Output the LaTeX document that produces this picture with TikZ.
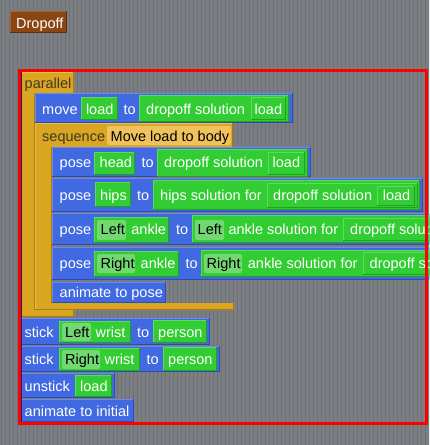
\documentclass[tikz,border=0pt]{standalone}
\usepackage{fontspec}
\setmainfont{Liberation Sans}
\definecolor{bg}{HTML}{7B7E82}
\definecolor{bgs}{HTML}{6D7074}
\definecolor{bblue}{HTML}{4169E1}
\definecolor{bbluel}{HTML}{6A8BEA}
\definecolor{bblued}{HTML}{2C4DB5}
\definecolor{bgreen}{HTML}{32CD32}
\definecolor{bgreenl}{HTML}{5EDB5E}
\definecolor{bgreend}{HTML}{22A022}
\definecolor{lgreen}{HTML}{72D872}
\definecolor{gold}{HTML}{DAA520}
\definecolor{goldl}{HTML}{E9BE52}
\definecolor{goldd}{HTML}{A97C10}
\definecolor{lgold}{HTML}{F0C25C}
\definecolor{brown}{HTML}{8B4513}
\definecolor{brownl}{HTML}{A8622E}
\definecolor{brownd}{HTML}{5E2E0C}
\definecolor{navyline}{HTML}{1A1A80}
\definecolor{ptext}{HTML}{3E3A26}
\newcommand\bev[7]{%
  \fill[#3] (#4,#5) rectangle (#6,#7);
  \fill[#2] (#4,#5) rectangle ({#6-1},{#7-1});
  \fill[#1] ({#4+1},{#5+1}) rectangle ({#6-1},{#7-1});}
\newcommand\blu[4]{\bev{bblue}{bbluel}{bblued}{#1}{#2}{#3}{#4}}
\newcommand\grn[4]{\bev{bgreen}{bgreenl}{bgreend}{#1}{#2}{#3}{#4}}
\newcommand\lgr[4]{\fill[lgreen,rounded corners=2pt] (#1,#2) rectangle (#3,#4);}
\begin{document}
\begin{tikzpicture}[x=1pt,y=-1pt,
  every node/.style={inner sep=0pt, anchor=base west, font=\fontsize{14.5}{17}\selectfont},
  wt/.style={text=white}, bt/.style={text=black}, dt/.style={text=ptext}]
\useasboundingbox (0,0) rectangle (429,445);
\clip (0,0) rectangle (429,445);
% background
\fill[bg] (0,0) rectangle (429,445);
\foreach \i in {0,...,107} {\fill[bgs] ({4*\i+1},0) rectangle ({4*\i+2},445);}
% Dropoff
\bev{brown}{brownl}{brownd}{10}{11}{67}{33}
\node[wt] (dropoff) at (16,28.5) {Dropoff};
% parallel
\fill[gold] (21,72) -- (74,72) -- (74,93) -- (35,93) -- (35,310) -- (74,310) -- (74,317) -- (21,317) -- cycle;
\draw[goldl,line width=1pt] (21.5,317) -- (21.5,72.5) -- (74,72.5);
\draw[goldd,line width=1pt] (73.5,72) -- (73.5,93) (34.5,93) -- (34.5,310) (21,316.5) -- (74,316.5) (73.5,310) -- (73.5,317);
\node[dt] (par) at (24.5,88.3) {parallel};
% move
\blu{35}{93}{293}{123}
\node[wt] (mv) at (42,114) {move};
\grn{81}{97}{118}{120}
\node[wt] (mvload) at (85.8,114) {load};
\node[wt] (mvto) at (123.5,114) {to};
\grn{139}{94.5}{289}{122}
\node[wt] (mvsol) at (146,114) {dropoff solution};
\grn{251}{97}{286}{120}
\node[wt] (mvsl) at (254.5,114) {load};
% sequence
\fill[gold] (35,123) -- (233,123) -- (233,147) -- (52,147) -- (52,303) -- (234,303) -- (234,310) -- (35,310) -- cycle;
\draw[goldl,line width=1pt] (35.5,310) -- (35.5,123.5) -- (233,123.5);
\draw[goldd,line width=1pt] (232.5,123) -- (232.5,147) (51.5,147) -- (51.5,303) (35,309.5) -- (234,309.5) (233.5,303) -- (233.5,310);
\node[dt] (seq) at (42,141) {sequence};
\fill[lgold,rounded corners=2pt] (107,126) rectangle (231,145);
\node[bt] (seqlab) at (110.5,141) {Move load to body};
% pose head
\blu{52}{147}{311}{177}
\node[wt] (p1) at (59.5,167.5) {pose};
\grn{94}{151.5}{135}{175}
\node[wt] (p1a) at (99.5,167.5) {head};
\node[wt] (p1to) at (141.5,167.5) {to};
\grn{157}{149}{308}{176.5}
\node[wt] (p1s) at (164,167.5) {dropoff solution};
\grn{268}{151.5}{305}{174.5}
\node[wt] (p1l) at (272.5,167.5) {load};
% pose hips
\blu{52}{178}{423}{212}
\node[wt] (p2) at (59.5,200.5) {pose};
\grn{95}{182}{131}{207}
\node[wt] (p2a) at (100,200.5) {hips};
\node[wt] (p2to) at (137,200.5) {to};
\grn{153}{180}{420}{210}
\node[wt] (p2s) at (160,200.5) {hips solution for};
\grn{267}{183}{418}{208}
\node[wt] (p2d) at (273,200.5) {dropoff solution};
\grn{377}{186}{415}{206}
\node[wt] (p2l) at (382.7,200.5) {load};
% pose Left ankle
\blu{52}{213}{440}{245}
\node[wt] (p3) at (59.5,234.5) {pose};
\grn{94}{217}{169}{243}
\lgr{97}{220}{126}{240}
\node[bt] (p3L) at (100.5,234.5) {Left};
\node[wt] (p3a) at (131.2,234.5) {ankle};
\node[wt] (p3to) at (176,234.5) {to};
\grn{192}{215}{438}{243}
\lgr{195}{220}{224}{240}
\node[bt] (p3L2) at (197.5,234.5) {Left};
\node[wt] (p3s) at (228.3,234.5) {ankle solution for};
\grn{343}{218}{436}{241}
\node[wt] (p3d) at (350,234.5) {dropoff solution};
% pose Right ankle
\blu{52}{247}{440}{280}
\node[wt] (p4) at (59.5,268.5) {pose};
\grn{94}{251}{179}{277}
\lgr{97}{254}{135}{273}
\node[bt] (p4R) at (100.5,268.5) {Right};
\node[wt] (p4a) at (140.5,268.5) {ankle};
\node[wt] (p4to) at (185.5,268.5) {to};
\grn{201}{250}{438}{277}
\lgr{204}{254}{242}{273}
\node[bt] (p4R2) at (206.5,268.5) {Right};
\node[wt] (p4s) at (247.7,268.5) {ankle solution for};
\grn{363}{252}{436}{275}
\node[wt] (p4d) at (369.5,268.5) {dropoff solution};
% animate to pose
\blu{52}{282}{166}{303}
\node[wt] (anp) at (59.5,297.5) {animate to pose};
% stick Left wrist
\blu{21}{318}{210}{345}
\node[wt] (s1) at (24.5,337.5) {stick};
\grn{59}{321}{131}{343}
\lgr{62}{323}{91}{341}
\node[bt] (s1L) at (65,337.5) {Left};
\node[wt] (s1w) at (95.5,337.5) {wrist};
\node[wt] (s1to) at (137,337.5) {to};
\grn{153}{320}{207}{343}
\node[wt] (s1p) at (158,337.5) {person};
% stick Right wrist
\blu{21}{346}{220}{372}
\node[wt] (s2) at (24.5,364.5) {stick};
\grn{59}{348}{140}{371}
\lgr{62}{350}{100}{369}
\node[bt] (s2R) at (65,364.5) {Right};
\node[wt] (s2w) at (104.5,364.5) {wrist};
\node[wt] (s2to) at (146.5,364.5) {to};
\grn{163}{347}{217}{371}
\node[wt] (s2p) at (168,364.5) {person};
% unstick
\blu{21}{373}{115}{398}
\node[wt] (us) at (24.5,391) {unstick};
\grn{75}{375}{112}{397}
\node[wt] (usl) at (80,391) {load};
% animate to initial
\blu{21}{399}{134}{422}
\node[wt] (ani) at (24.5,416) {animate to initial};
% frame
\draw[navyline,line width=0.8pt] (21.2,72) -- (21.2,422);
\draw[red,line width=2.6pt] (19.5,70.3) rectangle (426.6,423.3);
\end{tikzpicture}
\end{document}
